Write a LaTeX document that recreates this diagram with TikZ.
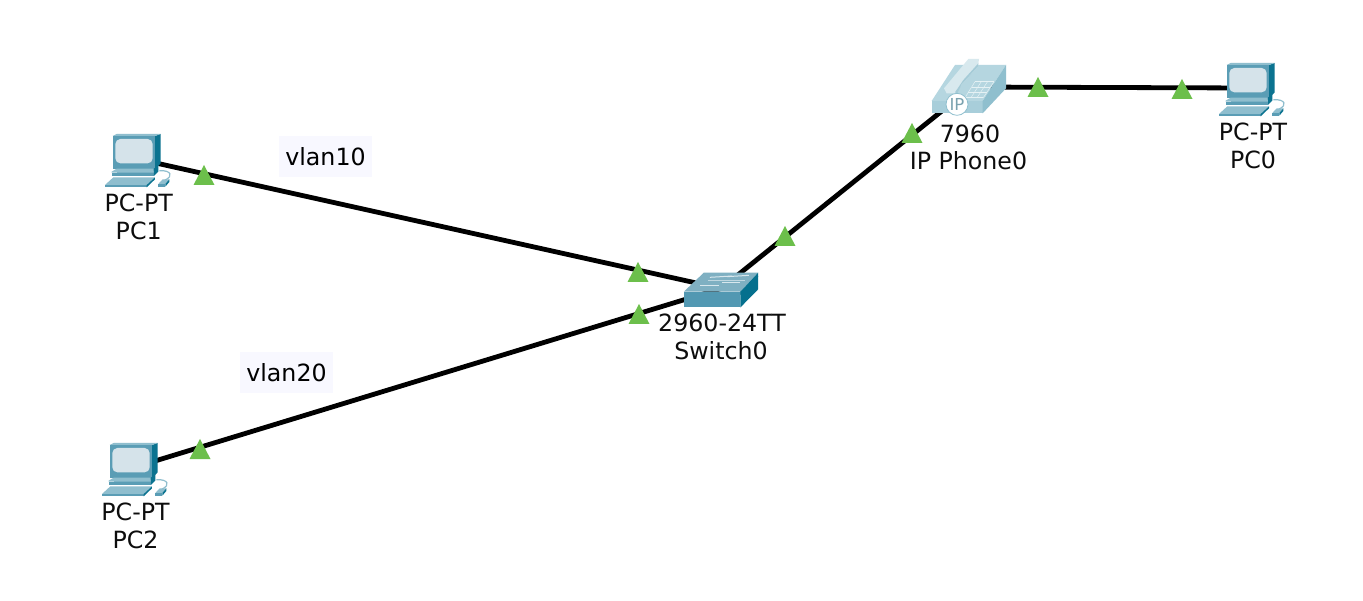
\documentclass[tikz,border=0pt]{standalone}
\usepackage{fontspec}
\setmainfont{DejaVu Sans}
\definecolor{pcfront}{HTML}{5A9DB5}
\definecolor{pctop}{HTML}{8FBECE}
\definecolor{pcdark}{HTML}{0B7390}
\definecolor{pcscreen}{HTML}{D5E3EA}
\definecolor{swfront}{HTML}{5298B2}
\definecolor{swtop}{HTML}{7FB0C2}
\definecolor{swside}{HTML}{05708E}
\definecolor{phtop}{HTML}{B5D6E0}
\definecolor{phfront}{HTML}{A8CEDA}
\definecolor{phside}{HTML}{8FBFCE}
\definecolor{phhand}{HTML}{D8E9EE}
\definecolor{lamp}{HTML}{6CBF4B}
\definecolor{notefill}{HTML}{F8F8FF}
\tikzset{
  x=1pt,y=-1pt,
  link/.style={line width=4.8pt,black},
  lbl/.style={font=\fontsize{23.7}{26}\selectfont,inner sep=0pt,text=black!95},
  notebox/.style={fill=notefill,minimum width=93pt,minimum height=41pt,inner sep=0pt,font=\fontsize{23.7}{26}\selectfont},
  lampmark/.pic={\fill[lamp] (-10.5,10) -- (0,-10) -- (10.5,10) -- cycle;},
  pcicon/.pic={
    \begin{scope}[x=.3333pt,y=-.3333pt]
      % monitor
      \fill[pcdark] (195,48) -- (212,42) -- (212,130) -- (195,148) -- cycle;
      \fill[pctop] (68,48) -- (80,42) -- (212,42) -- (195,48) -- cycle;
      \fill[pcfront] (68,48) -- (195,48) -- (195,148) -- (68,148) -- cycle;
      \fill[pcscreen,rounded corners=5pt] (76,57) rectangle (188,130);
      % base
      \fill[pcfront] (82,148) -- (195,148) -- (195,158) -- (82,158) -- cycle;
      \fill[pctop] (65,155) -- (80,146) -- (190,146) -- (192,158) -- (65,158) -- cycle;
      \fill[pcfront] (65,158) -- (192,158) -- (192,168) -- (65,168) -- cycle;
      \fill[pcdark] (192,146) -- (205,135) -- (205,155) -- (192,168) -- cycle;
      % keyboard
      \fill[pctop] (45,195) -- (70,172) -- (195,172) -- (170,195) -- cycle;
      \fill[pcfront] (45,195) -- (170,195) -- (170,202) -- (45,202) -- cycle;
      \fill[pcdark] (170,195) -- (195,172) -- (195,178) -- (170,202) -- cycle;
      % mouse
      \draw[pctop,line width=1.2pt] (225,180) .. controls (250,170) and (245,150) .. (208,152);
      \fill[pctop] (205,192) -- (218,178) -- (238,178) -- (226,192) -- cycle;
      \fill[pcfront] (205,192) -- (226,192) -- (226,200) -- (205,200) -- cycle;
      \fill[pcdark] (226,192) -- (238,178) -- (238,186) -- (226,200) -- cycle;
    \end{scope}
  },
  switchicon/.pic={
    \begin{scope}[x=.3333pt,y=-.3333pt]
      \fill[swtop] (190,125) -- (250,68) -- (413,68) -- (360,125) -- cycle;
      \fill[swfront] (190,125) -- (360,125) -- (360,172) -- (190,172) -- cycle;
      \fill[swside] (360,125) -- (413,78) -- (413,118) -- (360,172) -- cycle;
      \fill[swside] (360,125) -- (413,68) -- (413,80) -- (360,135) -- cycle;
      \draw[white!70!swtop,line width=1pt] (268,82) -- (335,78);
      \draw[white!70!swtop,line width=1pt] (320,80) -- (385,76);
      \draw[white!70!swtop,line width=1pt] (240,108) -- (295,108);
      \draw[white!70!swtop,line width=1pt] (305,98) -- (358,98);
      \draw[white!50!swtop,line width=.6pt] (262,92) -- (375,92);
    \end{scope}
  },
  phoneicon/.pic={
    \begin{scope}[x=.3333pt,y=-.3333pt]
      \fill[phtop] (95,168) -- (165,60) -- (318,60) -- (248,168) -- cycle;
      \fill[phfront] (95,168) -- (248,168) -- (248,205) -- (95,205) -- cycle;
      \fill[phside] (248,168) -- (318,60) -- (318,130) -- (248,205) -- cycle;
      \fill[phhand] (132,130) -- (205,42) -- (237,42) -- (234,64) -- (185,118) -- (170,145) -- (140,145) -- cycle;
      \fill[phside!70!phhand] (165,142) -- (190,105) -- (235,55) -- (234,64) -- (185,118) -- (172,145) -- cycle;
      \foreach \t in {0,.33,.66,1}{
        \draw[white!65!phtop,line width=.5pt] ({225-30*\t},{110+48*\t}) -- ({282-32*\t},{110+48*\t});
        \draw[white!65!phtop,line width=.5pt] ({225+57*\t},110) -- ({195+55*\t},158);
      }
      \fill[white] (171,178) circle (33);
      \draw[phside,line width=.8pt] (171,178) circle (33);
      \node[text=phside!85!black,font=\fontsize{16.5}{18}\selectfont,inner sep=0pt] (iptag) at (171,178) {IP};
    \end{scope}
  }
}
\begin{document}
\begin{tikzpicture}
\useasboundingbox[fill=white] (0,0) rectangle (1363,601);
\coordinate (pc1) at (132,157.7);
\coordinate (pc2) at (130,468.6);
\coordinate (pc0) at (1248,88);
\coordinate (sw) at (721,288.5);
\coordinate (ph) at (968,90);
\coordinate (phr) at (968,87);
\draw[link] (pc1) -- (sw);
\draw[link] (pc2) -- (sw);
\draw[link] (sw) -- (ph);
\draw[link] (phr) -- (pc0);
\pic at (90,120) {pcicon};
\pic at (87,429) {pcicon};
\pic at (1204,49) {pcicon};
\pic at (620.5,250) {switchicon};
\pic at (900,45) {phoneicon};
\pic at (204,175) {lampmark};
\pic at (638,272) {lampmark};
\pic at (639,314) {lampmark};
\pic at (200,449) {lampmark};
\pic at (785,236) {lampmark};
\pic at (912,133) {lampmark};
\pic at (1038,87) {lampmark};
\pic at (1182,89) {lampmark};
\node[notebox] (n10) at (325.5,156.5) {vlan10};
\node[notebox] (n20) at (286.5,372.5) {vlan20};
\node[lbl] (t1a) at (138.7,203) {PC-PT};
\node[lbl] (t1b) at (138.7,231) {PC1};
\node[lbl] (t2a) at (135.5,512) {PC-PT};
\node[lbl] (t2b) at (135.5,540) {PC2};
\node[lbl] (t0a) at (1253,132) {PC-PT};
\node[lbl] (t0b) at (1253,160) {PC0};
\node[lbl] (tsa) at (722,323) {2960-24TT};
\node[lbl] (tsb) at (721,351) {Switch0};
\node[lbl] (tpa) at (970,134) {7960};
\node[lbl] (tpb) at (968.5,161) {IP Phone0};
\end{tikzpicture}
\end{document}
